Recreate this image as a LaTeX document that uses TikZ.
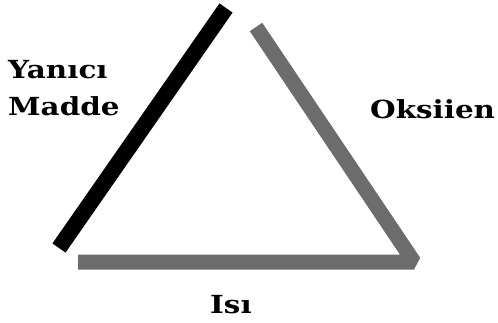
\documentclass[tikz,border=0pt]{standalone}
\usepackage{fontspec}
\newfontfamily\lblfont{DejaVu Serif}[FakeStretch=1.18]
\usepackage{xcolor}
\definecolor{sidegray}{RGB}{108,108,108}

\begin{document}
\begin{tikzpicture}[x=1bp, y=-1bp, lbl/.style={font=\lblfont\bfseries\fontsize{25}{29}\selectfont, anchor=base west, inner sep=0pt}]
    \useasboundingbox (0,0) rectangle (498,322);
    \coordinate (fuelbot) at (59,248);
    \coordinate (fueltop) at (226,8);
    \coordinate (oxtop) at (256,27);
    \coordinate (corner) at (414,262);
    \coordinate (heatend) at (78,262);

    \draw [line width=16bp, black] (fuelbot) -- (fueltop);
    \draw [line width=15bp, sidegray, line join=bevel] (oxtop) -- (corner) -- (heatend);

    \node [lbl] (yanici) at (8,78) {Yanıcı};
    \node [lbl] (madde) at (8,115) {Madde};
    \node [lbl] (oksijen) at (370,118) {Oksiien};
    \node [lbl] (isi) at (210,313) {Isı};
\end{tikzpicture}
\end{document}
